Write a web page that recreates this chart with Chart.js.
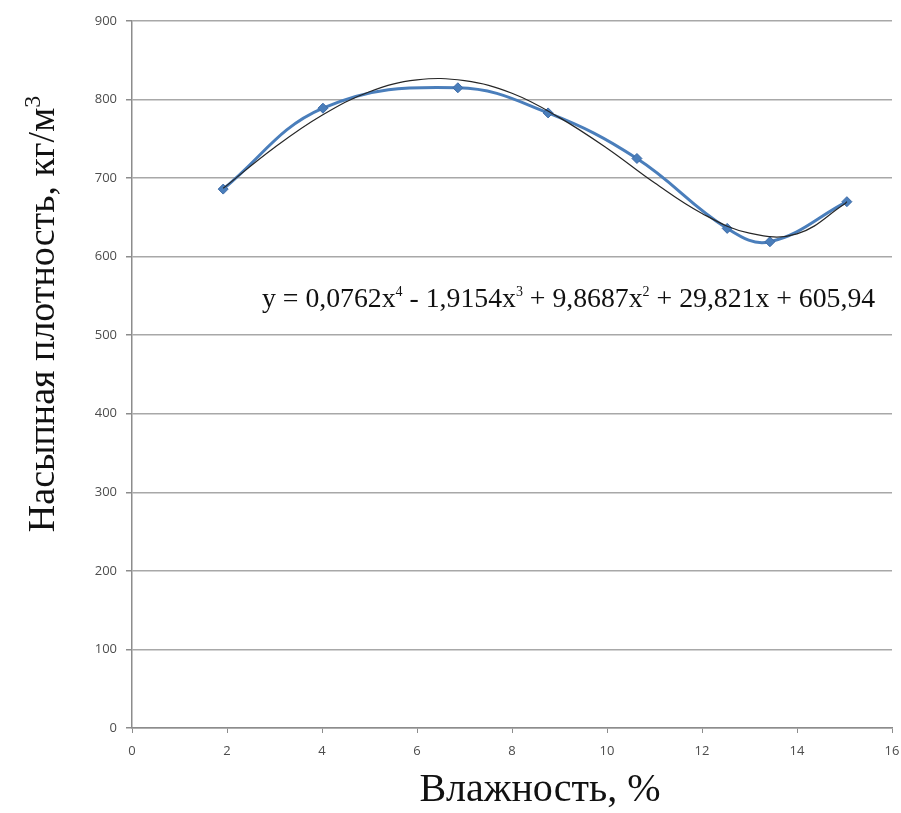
<!DOCTYPE html>
<html lang="ru">
<head>
<meta charset="UTF-8">
<title>Насыпная плотность</title>
<script src="https://cdn.jsdelivr.net/npm/chart.js"></script>
<style>
  html, body { margin: 0; padding: 0; background: #fff; }
  #wrap { width: 901px; height: 813px; }
</style>
</head>
<body>
<div id="wrap"><canvas id="myChart" width="901" height="813"></canvas></div>
<script>
// measured points (moisture %, bulk density kg/m3)
var moisture = [1.92, 4.02, 6.86, 8.76, 10.63, 12.53, 13.43, 15.05];
var density = [686, 789, 815, 783, 725, 636, 619, 670];

// black trend curve
var trendX = [1.92, 3, 4, 5, 6, 7, 8, 9, 10, 11, 12, 13, 14, 15, 15.05];
var trendY = [687, 739, 780, 810, 825, 824, 808, 777, 738, 694, 655, 630, 629, 667, 670];

var xTicks = [0, 2, 4, 6, 8, 10, 12, 14, 16];
var yTicks = [0, 100, 200, 300, 400, 500, 600, 700, 800, 900];

var yTitle = [["Насыпная плотность, кг/м", false], ["3", true]];
var xTitle = "Влажность, %";
var equation = [
    ["y = 0,0762x", false], ["4", true],
    [" - 1,9154x", false], ["3", true],
    [" + 9,8687x", false], ["2", true],
    [" + 29,821x + 605,94", false]
];

function toPoints(xs, ys) {
    var pts = [];
    for (var i = 0; i < xs.length; i++) {
        pts.push({ x: xs[i], y: ys[i] });
    }
    return pts;
}

// draws text with superscript pieces, starting at x (left aligned)
function drawRich(ctx, parts, x, y, size, family, supScale) {
    var supSize = Math.round(size * supScale);
    for (var i = 0; i < parts.length; i++) {
        var sup = parts[i][1];
        ctx.font = (sup ? supSize : size) + "px " + family;
        ctx.fillText(parts[i][0], x, sup ? y - size * 0.38 : y);
        x += ctx.measureText(parts[i][0]).width;
    }
}

function richWidth(ctx, parts, size, family, supScale) {
    var supSize = Math.round(size * supScale);
    var w = 0;
    for (var i = 0; i < parts.length; i++) {
        ctx.font = (parts[i][1] ? supSize : size) + "px " + family;
        w += ctx.measureText(parts[i][0]).width;
    }
    return w;
}

var textPlugin = {
    id: 'texts',
    afterDraw: function(chart) {
        var ctx = chart.ctx;
        var serif = "'Liberation Serif', 'DejaVu Serif', serif";
        ctx.save();
        ctx.fillStyle = '#111';
        ctx.textBaseline = 'alphabetic';
        ctx.textAlign = 'left';

        // equation of the trend line, sized to span 262..876
        var eqSize = 21 * 614 / richWidth(ctx, equation, 21, serif, 0.52);
        drawRich(ctx, equation, 262, 307, eqSize, serif, 0.52);

        // x axis title
        ctx.font = "40px " + serif;
        var xw = ctx.measureText(xTitle).width;
        ctx.fillText(xTitle, 540 - xw / 2, 801);

        // y axis title, rotated
        var yw = richWidth(ctx, yTitle, 38, serif, 0.62);
        ctx.translate(54, 314);
        ctx.rotate(-Math.PI / 2);
        drawRich(ctx, yTitle, -yw / 2, 0, 38, serif, 0.62);
        ctx.restore();
    }
};

const ctx = document.getElementById('myChart');

const myChart = new Chart(ctx, {
    type: 'scatter',
    data: {
        datasets: [{
            label: 'trend',
            data: toPoints(trendX, trendY),
            showLine: true,
            tension: 0.4,
            borderColor: '#262626',
            borderWidth: 1.2,
            pointRadius: 0,
            order: 0
        }, {
            label: 'density',
            data: toPoints(moisture, density),
            showLine: true,
            tension: 0.4,
            borderColor: '#4a7ebb',
            borderWidth: 3,
            pointStyle: 'rectRot',
            pointRadius: 5,
            pointBackgroundColor: '#4a7ebb',
            pointBorderColor: '#3c6aa6',
            pointBorderWidth: 1,
            order: 1
        }]
    },
    options: {
        responsive: false,
        animation: false,
        layout: { padding: { left: 0, right: 9, top: 21, bottom: 0 } },
        plugins: {
            legend: { display: false },
            tooltip: { enabled: false }
        },
        scales: {
            x: {
                type: 'linear',
                min: 0,
                max: 16,
                afterBuildTicks: function(s) { s.ticks = xTicks.map(function(v) { return { value: v }; }); },
                afterFit: function(s) { s.height = 85; s.paddingRight = 0; s.paddingLeft = 0; },
                grid: { drawOnChartArea: false, drawTicks: true, tickLength: 5, color: '#8c8c8c' },
                border: { color: '#8c8c8c', width: 1.5 },
                ticks: {
                    padding: 10,
                    maxRotation: 0,
                    color: '#4d4d4d',
                    font: { family: "'Open Sans', sans-serif", size: 13 }
                }
            },
            y: {
                type: 'linear',
                min: 0,
                max: 900,
                afterBuildTicks: function(s) { s.ticks = yTicks.map(function(v) { return { value: v }; }); },
                afterFit: function(s) { s.width = 132; },
                grid: { color: '#a8a8a8', lineWidth: 1.5, tickLength: 6, tickColor: '#8c8c8c' },
                border: { color: '#8c8c8c', width: 1.5 },
                ticks: {
                    padding: 9,
                    color: '#4d4d4d',
                    font: { family: "'Open Sans', sans-serif", size: 13 }
                }
            }
        }
    },
    plugins: [textPlugin]
});
</script>
</body>
</html>
